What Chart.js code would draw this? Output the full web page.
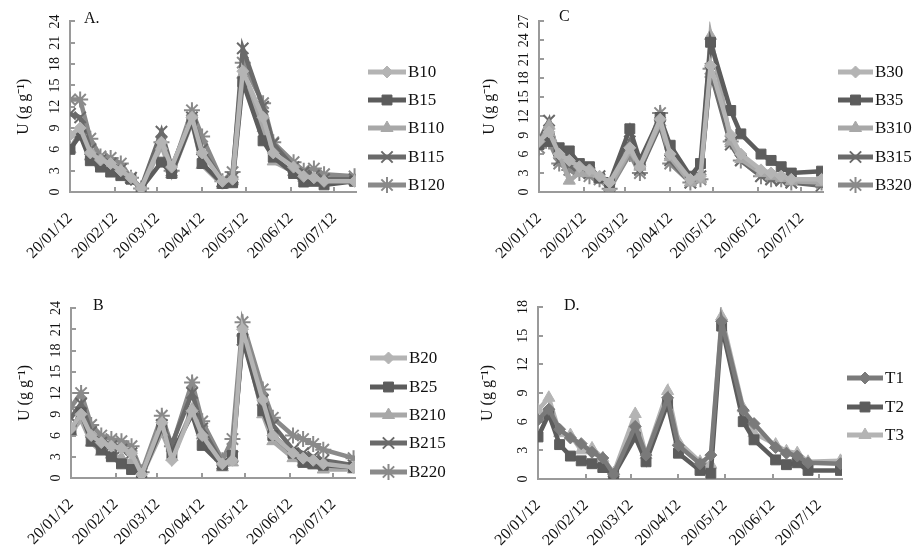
<!DOCTYPE html>
<html>
<head>
<meta charset="utf-8">
<script src="https://cdn.jsdelivr.net/npm/chart.js@4.4.1/dist/chart.umd.min.js"></script>
<style>
body { margin: 0; background: #fff; }
.panel { position: absolute; }
</style>
</head>
<body>
<div class="panel" style="left:0;top:0"><canvas id="chartA" width="460" height="276"></canvas></div>
<div class="panel" style="left:460px;top:0"><canvas id="chartC" width="461" height="276"></canvas></div>
<div class="panel" style="left:0;top:276px"><canvas id="chartB" width="460" height="276"></canvas></div>
<div class="panel" style="left:460px;top:276px"><canvas id="chartD" width="461" height="276"></canvas></div>
<script>
// sampling days, counted from 20/01/12
var days = [0, 7, 14, 21, 28, 35, 42, 49, 63, 70, 84, 91, 105, 112, 119, 133, 140, 154, 161, 168, 175, 196];
var tickDays = [0, 31, 60, 91, 121, 152, 182];
var tickLabels = ['20/01/12', '20/02/12', '20/03/12', '20/04/12', '20/05/12', '20/06/12', '20/07/12'];

// panel A
var B10  = [8, 9, 5.5, 4.5, 4, 3, 2, 0.5, 7, 3.5, 10.5, 5.5, 1.5, 1.8, 17, 10.5, 5.5, 3.5, 2.2, 2, 1.5, 1.5];
var B15  = [6, 8, 4.4, 3.5, 2.8, 2.3, 1.8, 0.5, 4.2, 2.6, 10, 4, 1.2, 1.3, 15.5, 7.2, 4.9, 2.6, 1.4, 1.5, 1, 1.5];
var B110 = [6, 8.5, 5, 4, 3.5, 3, 2, 0.3, 6.5, 2.5, 9.8, 3.8, 1, 1.5, 16.5, 9, 4.3, 2.8, 2, 1.8, 1.5, 1.5];
var B115 = [11, 10.5, 6, 4.5, 4, 3.2, 2, 0.6, 8.5, 3.5, 10.5, 6, 1.5, 2, 20.2, 12, 6.8, 3.5, 2.8, 2.3, 1.8, 1.8];
var B120 = [13, 13, 7.5, 5, 4.8, 4, 2, 0.5, 7, 3, 11.5, 7.8, 1.5, 2.8, 18.2, 12.5, 7, 4.2, 3, 3.3, 2.5, 2.2];
// panel B
var B20  = [7, 9, 6, 5, 4.5, 4.2, 3.5, 0.5, 7.8, 2.5, 9.5, 6, 2, 2.5, 21, 11, 6, 3.5, 2.8, 2.5, 2, 1.5];
var B25  = [6.8, 9.2, 5.2, 4, 3, 2, 1.2, 0.3, 7.2, 3.5, 9, 4.6, 1.8, 3.2, 19.7, 9.5, 6, 3.5, 2.2, 2, 1.8, 1.5];
var B210 = [6.5, 8.2, 5, 3.7, 3.3, 2.8, 2.2, 0.3, 6.5, 3, 9.7, 6, 1.5, 2.2, 20.5, 9, 5.2, 2.8, 2.2, 1.8, 1.2, 1.2];
var B215 = [8.5, 10.5, 6.5, 5, 4.5, 4, 3.5, 0.6, 7.5, 4.8, 12, 7, 2, 3, 19.5, 11, 7.5, 4, 3.5, 3, 2.5, 1.8];
var B220 = [10, 12, 7.5, 6, 5.5, 5.2, 4.5, 0.8, 8.8, 4.5, 13.5, 8, 2.5, 5.5, 22, 12.5, 8.5, 6, 5.5, 4.8, 4, 2.8];
// panel C
var B30  = [8, 9.5, 6, 5, 4, 3.5, 2.5, 1.5, 7, 4, 11.5, 6, 2, 2.5, 20, 9, 6, 3.5, 3, 2.5, 2, 2];
var B35  = [7.5, 8, 7, 6.5, 4.5, 4, 2.2, 1.5, 10, 5, 11.8, 7.4, 2.5, 4.5, 23.7, 12.9, 9.2, 6, 5, 4, 3, 3.3];
var B310 = [7.5, 10.5, 6, 1.8, 3, 3, 2, 0.8, 6.5, 4, 11, 5.5, 1.5, 2, 24.7, 8, 5.2, 3, 2.5, 2.2, 1.7, 1.5];
var B315 = [8, 11.3, 5, 4.2, 3.5, 3, 2.5, 1, 8, 3.5, 10.5, 5, 1.5, 2.5, 19, 7.5, 5, 2.5, 2, 1.8, 1.5, 1];
var B320 = [7, 8, 4.5, 3.5, 3, 2.5, 2, 0.5, 6, 3, 12.5, 4.5, 1.5, 2, 19.5, 8, 5, 2.5, 2, 2, 1.5, 1.5];
// panel D
var T1 = [6.2, 7.3, 5.2, 4.3, 3.7, 2.8, 2.2, 0.5, 5.5, 2.5, 8.5, 3.5, 1.6, 2.5, 16.5, 7.2, 5.8, 3.3, 2.7, 2.4, 1.7, 1.6];
var T2 = [4.4, 6.8, 3.6, 2.4, 1.9, 1.6, 1.2, 0.4, 4.4, 1.8, 7.9, 2.7, 0.9, 0.6, 16, 6, 4.1, 2, 1.5, 1.7, 0.9, 0.9];
var T3 = [7.2, 8.5, 4.8, 4.6, 3, 3.2, 2.2, 0.6, 6.8, 2.5, 9.2, 3.9, 1.8, 1.5, 17, 7.4, 4.8, 3.6, 2.9, 2.7, 1.8, 1.9];

var FONT = "'Liberation Serif', 'Times New Roman', serif";
Chart.defaults.font.family = FONT;
Chart.defaults.color = '#111';

function pts(vals) {
  return vals.map(function (v, i) { return { x: days[i], y: v }; });
}

function series(label, vals, color, style, radius) {
  return {
    label: label,
    data: pts(vals),
    borderColor: color,
    backgroundColor: color,
    borderWidth: 4.5,
    pointStyle: style,
    pointRadius: radius,
    pointBorderWidth: style == 'crossRot' || style == 'star' ? 2 : 1,
    pointBorderColor: color,
    pointBackgroundColor: color,
    tension: 0
  };
}

// panel letter + legend with line and marker
var sideDeco = {
  id: 'sideDeco',
  afterDraw: function (chart, args, o) {
    var ctx = chart.ctx;
    ctx.save();
    ctx.fillStyle = '#111';
    ctx.font = '16px ' + FONT;
    ctx.textBaseline = 'middle';
    ctx.textAlign = 'left';
    ctx.fillText(o.tag, o.tagX, o.tagY);
    chart.data.datasets.forEach(function (ds, i) {
      var y = o.legY[i];
      ctx.strokeStyle = ds.borderColor;
      ctx.lineWidth = 5;
      ctx.beginPath();
      ctx.moveTo(o.legX0, y);
      ctx.lineTo(o.legX1, y);
      ctx.stroke();
      ctx.fillStyle = ds.borderColor;
      ctx.lineWidth = ds.pointBorderWidth;
      Chart.helpers.drawPoint(ctx, { pointStyle: ds.pointStyle, rotation: 0, radius: ds.pointRadius, borderWidth: ds.pointBorderWidth }, (o.legX0 + o.legX1) / 2, y);
      ctx.fillStyle = '#111';
      ctx.font = '17px ' + FONT;
      ctx.fillText(ds.label, o.legX1 + 2, y + 1);
    });
    ctx.restore();
  }
};

function panel(id, datasets, ymax, box, deco) {
  var cv = document.getElementById(id);
  var W = cv.width, H = cv.height;
  new Chart(cv, {
    type: 'line',
    data: { datasets: datasets },
    plugins: [sideDeco],
    options: {
      responsive: false,
      animation: false,
      layout: { padding: { left: 0, top: box.top, right: W - box.right, bottom: 0 } },
      plugins: { legend: { display: false }, tooltip: { enabled: false }, sideDeco: deco },
      scales: {
        x: {
          type: 'linear', min: 0, max: 197,
          afterBuildTicks: function (s) { s.ticks = tickDays.map(function (v) { return { value: v }; }); },
          afterFit: function (s) { s.height = H - box.bottom; },
          ticks: {
            autoSkip: false, minRotation: 45, maxRotation: 45, padding: 22,
            font: { size: 16 },
            callback: function (v) { return tickLabels[tickDays.indexOf(v)]; }
          },
          grid: { drawOnChartArea: false, tickLength: -5, color: '#9a9a9a', lineWidth: 2 },
          border: { color: '#9a9a9a', width: 2 }
        },
        y: {
          min: 0, max: ymax,
          afterFit: function (s) { s.width = box.left; },
          ticks: {
            stepSize: 3, autoSkip: false, minRotation: 90, maxRotation: 90,
            crossAlign: 'center', padding: 13, font: { size: 14 }
          },
          title: { display: true, text: 'U (g g\u207B\u00B9)', font: { size: 16 }, padding: { top: box.titlePad, bottom: 0 } },
          grid: { drawOnChartArea: false, tickLength: -5, color: '#9a9a9a', lineWidth: 2 },
          border: { color: '#9a9a9a', width: 2 }
        }
      }
    }
  });
}

var light = '#b4b4b4', light2 = '#a8a8a8', dark = '#5c5c5c', dark2 = '#6a6a6a', mid = '#8a8a8a';

panel('chartA', [
  series('B10', B10, light, 'rectRot', 6),
  series('B15', B15, dark, 'rect', 7),
  series('B110', B110, light2, 'triangle', 7),
  series('B115', B115, dark2, 'crossRot', 8),
  series('B120', B120, mid, 'star', 8)
], 24, { left: 70, right: 356, top: 18, bottom: 192, titlePad: 14 },
  { tag: 'A.', tagX: 84, tagY: 19, legX0: 368, legX1: 406, legY: [72, 100, 128, 157, 185] });

panel('chartC', [
  series('B30', B30, light, 'rectRot', 6),
  series('B35', B35, dark, 'rect', 7),
  series('B310', B310, light2, 'triangle', 7),
  series('B315', B315, dark2, 'crossRot', 8),
  series('B320', B320, mid, 'star', 8)
], 27, { left: 79, right: 363, top: 20, bottom: 192, titlePad: 20 },
  { tag: 'C', tagX: 99, tagY: 17, legX0: 378, legX1: 413, legY: [72, 100, 128, 157, 185] });

panel('chartB', [
  series('B20', B20, light, 'rectRot', 6),
  series('B25', B25, dark, 'rect', 7),
  series('B210', B210, light2, 'triangle', 7),
  series('B215', B215, dark2, 'crossRot', 8),
  series('B220', B220, mid, 'star', 8)
], 24, { left: 71, right: 355, top: 32, bottom: 202, titlePad: 15 },
  { tag: 'B', tagX: 93, tagY: 30, legX0: 370, legX1: 407, legY: [82, 111, 139, 167, 196] });

panel('chartD', [
  series('T1', T1, '#7a7a7a', 'rectRot', 6),
  series('T2', T2, dark, 'rect', 7),
  series('T3', T3, light, 'triangle', 7)
], 18, { left: 78, right: 382, top: 31, bottom: 203, titlePad: 18 },
  { tag: 'D.', tagX: 104, tagY: 30, legX0: 387, legX1: 423, legY: [102, 131, 159] });
</script>
</body>
</html>
